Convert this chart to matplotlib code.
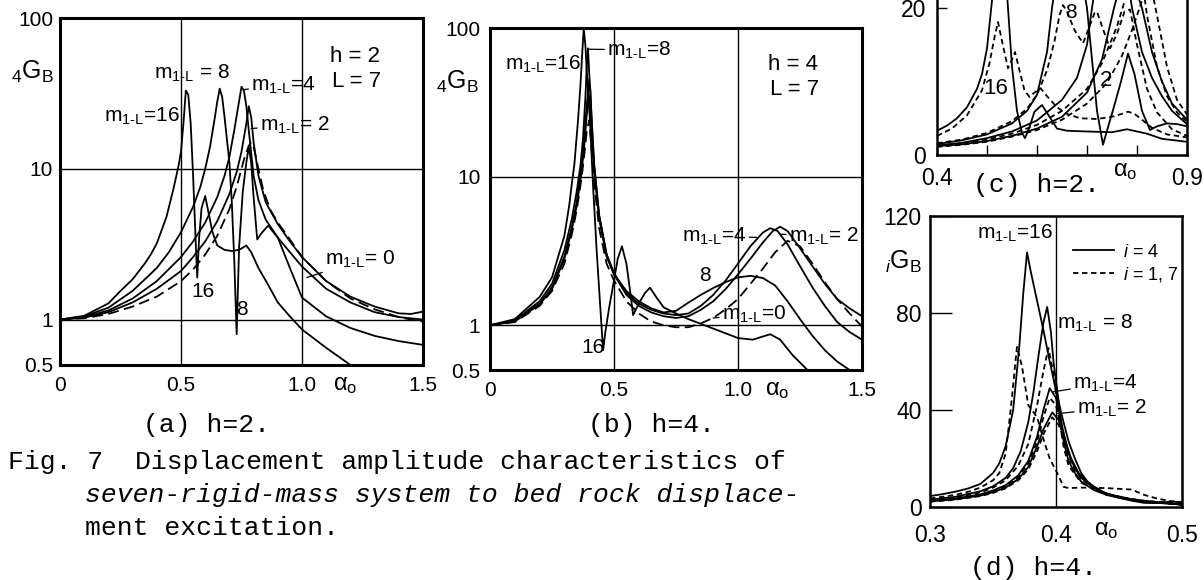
import matplotlib
matplotlib.use("Agg")
import matplotlib.pyplot as plt
from matplotlib.ticker import NullLocator
from matplotlib.lines import Line2D

plt.rcParams['font.family'] = ['Liberation Sans', 'DejaVu Sans']
plt.rcParams['mathtext.fontset'] = 'custom'
plt.rcParams['mathtext.rm'] = 'Liberation Sans'
plt.rcParams['mathtext.it'] = 'Liberation Sans:italic'
plt.rcParams['mathtext.default'] = 'regular'

W, H = 1204, 580

# ****** (a) h=2, log scale ******
A_M0_X = [0, 0.1, 0.2, 0.3, 0.4, 0.5, 0.55, 0.6, 0.65, 0.7, 0.73, 0.76, 0.78, 0.79, 0.8, 0.82, 0.84, 0.87,
          0.9, 0.95, 1.0, 1.1, 1.2, 1.3, 1.4, 1.45, 1.5]
A_M0_Y = [1, 1.02, 1.09, 1.22, 1.42, 1.8, 2.15, 2.7, 3.6, 5.4, 7.6, 11.5, 14.2, 15, 14, 10, 7.2, 5.3,
          4.4, 3.4, 2.6, 1.8, 1.38, 1.17, 1.04, 1.0, 0.97]
A_M2_X = [0, 0.1, 0.2, 0.3, 0.4, 0.5, 0.55, 0.6, 0.65, 0.7, 0.73, 0.75, 0.77, 0.78, 0.79, 0.8, 0.82, 0.85,
          0.9, 0.95, 1.0, 1.1, 1.2, 1.3, 1.4, 1.45, 1.5]
A_M2_Y = [1, 1.03, 1.12, 1.3, 1.6, 2.1, 2.6, 3.3, 4.5, 6.8, 9.5, 13, 20, 26, 22, 15, 9, 6,
          4.3, 3.3, 2.6, 1.8, 1.42, 1.22, 1.1, 1.09, 1.13]
A_M4_X = [0, 0.1, 0.2, 0.3, 0.4, 0.5, 0.55, 0.6, 0.65, 0.68, 0.7, 0.72, 0.74, 0.75, 0.76, 0.77, 0.78, 0.8,
          0.82, 0.85, 0.9, 0.95, 1.0, 1.1, 1.2, 1.3, 1.4, 1.5]
A_M4_Y = [1, 1.04, 1.15, 1.38, 1.8, 2.6, 3.3, 4.4, 6.5, 9, 12, 18, 28, 35, 33, 26, 18, 9,
          6.2, 4.6, 3.5, 2.8, 2.25, 1.6, 1.3, 1.12, 1.04, 1.0]
A_M8_X = [0, 0.1, 0.2, 0.3, 0.4, 0.45, 0.5, 0.55, 0.58, 0.6, 0.62, 0.64, 0.65, 0.66, 0.67, 0.68, 0.7, 0.71,
          0.72, 0.73, 0.74, 0.755, 0.77, 0.78, 0.79, 0.8, 0.815, 0.83, 0.86, 0.9, 0.95, 1.0, 1.1, 1.2,
          1.3, 1.4, 1.5]
A_M8_Y = [1, 1.05, 1.2, 1.55, 2.2, 2.8, 3.8, 5.6, 7.6, 10, 14, 22, 28, 34, 30, 22, 11, 6,
          2.5, 0.8, 3, 7, 11, 14, 11, 6.5, 3.4, 3.7, 4.2, 3.5, 2.2, 1.4, 1.05, 0.88,
          0.78, 0.72, 0.68]
A_M16_X = [0, 0.1, 0.2, 0.25, 0.3, 0.35, 0.375, 0.4, 0.44, 0.47, 0.49, 0.5, 0.51, 0.52, 0.53, 0.54, 0.55,
           0.56, 0.567, 0.575, 0.585, 0.6, 0.615, 0.63, 0.65, 0.68, 0.71, 0.74, 0.77, 0.79, 0.82, 0.86,
           0.9, 0.95, 1.0, 1.1, 1.2]
A_M16_Y = [1, 1.06, 1.28, 1.55, 1.85, 2.35, 2.7, 3.2, 4.8, 7.5, 10.5, 13, 20, 33, 31, 20, 9,
           3.5, 1.9, 3.5, 5.5, 6.6, 5.0, 3.8, 3.1, 2.9, 2.85, 2.9, 3.1, 2.8, 2.2, 1.7,
           1.3, 1.05, 0.86, 0.65, 0.5]

# ****** (b) h=4, log scale ******
B_M0_X = [0, 0.1, 0.2, 0.25, 0.3, 0.33, 0.35, 0.37, 0.38, 0.39, 0.4, 0.41, 0.42, 0.44, 0.47, 0.5, 0.55, 0.6,
          0.65, 0.7, 0.75, 0.8, 0.85, 0.9, 0.95, 1.0, 1.05, 1.1, 1.15, 1.2, 1.25, 1.3, 1.35, 1.4, 1.45, 1.5]
B_M0_Y = [1, 1.05, 1.35, 1.7, 2.6, 4.1, 6, 10, 14, 20, 24, 15, 9, 4.5, 2.6, 2.0, 1.45, 1.2,
          1.06, 1.0, 0.97, 0.97, 1.03, 1.12, 1.28, 1.5, 1.9, 2.4, 3.1, 3.7, 3.4, 2.6, 1.95, 1.5, 1.2, 0.98]
B_M2_X = [0, 0.1, 0.2, 0.25, 0.3, 0.33, 0.35, 0.37, 0.38, 0.39, 0.4, 0.405, 0.41, 0.42, 0.44, 0.47, 0.5,
          0.55, 0.6, 0.65, 0.7, 0.75, 0.8, 0.85, 0.9, 0.95, 1.0, 1.05, 1.1, 1.14, 1.17, 1.2, 1.25, 1.3,
          1.35, 1.4, 1.45, 1.5]
B_M2_Y = [1, 1.06, 1.38, 1.75, 2.8, 4.4, 6.4, 11, 16, 26, 35, 30, 20, 11, 5.2, 2.9, 2.2,
          1.6, 1.35, 1.22, 1.15, 1.12, 1.15, 1.27, 1.45, 1.75, 2.2, 2.8, 3.6, 4.3, 4.6, 4.3, 3.3, 2.5,
          1.9, 1.5, 1.3, 1.15]
B_M4_X = [0, 0.1, 0.2, 0.25, 0.3, 0.33, 0.35, 0.37, 0.38, 0.39, 0.4, 0.405, 0.41, 0.42, 0.44, 0.47, 0.5,
          0.55, 0.6, 0.65, 0.7, 0.75, 0.8, 0.85, 0.9, 0.95, 1.0, 1.05, 1.1, 1.13, 1.16, 1.2, 1.25, 1.3,
          1.35, 1.4, 1.45, 1.5]
B_M4_Y = [1, 1.07, 1.4, 1.8, 2.9, 4.6, 6.8, 12, 18, 30, 45, 38, 24, 12, 5.5, 3.0, 2.25,
          1.65, 1.4, 1.27, 1.2, 1.17, 1.2, 1.35, 1.6, 2.0, 2.6, 3.4, 4.2, 4.5, 4.3, 3.5, 2.5, 1.8,
          1.35, 1.05, 0.9, 0.8]
B_M8_X = [0, 0.1, 0.2, 0.25, 0.3, 0.33, 0.35, 0.365, 0.375, 0.385, 0.39, 0.395, 0.4, 0.41, 0.42, 0.44,
          0.47, 0.5, 0.55, 0.6, 0.65, 0.7, 0.75, 0.8, 0.85, 0.9, 0.95, 1.0, 1.05, 1.1, 1.15, 1.2, 1.25,
          1.3, 1.35, 1.4, 1.45]
B_M8_Y = [1, 1.08, 1.45, 1.9, 3.2, 5.2, 8, 12, 18, 35, 55, 73, 50, 24, 12, 5.5,
          3.0, 2.2, 1.7, 1.45, 1.3, 1.22, 1.25, 1.42, 1.6, 1.78, 1.95, 2.1, 2.15, 2.08, 1.85, 1.45, 1.1,
          0.85, 0.68, 0.57, 0.5]
B_M16_X = [0, 0.1, 0.2, 0.25, 0.3, 0.32, 0.33, 0.34, 0.355, 0.365, 0.372, 0.378, 0.385, 0.392, 0.403,
           0.415, 0.43, 0.445, 0.456, 0.465, 0.48, 0.5, 0.515, 0.532, 0.55, 0.565, 0.577, 0.6, 0.625,
           0.645, 0.67, 0.7, 0.75, 0.8, 0.9, 1.0, 1.06, 1.1, 1.13, 1.17, 1.22, 1.28]
B_M16_Y = [1, 1.1, 1.55, 2.1, 4.0, 6.5, 9, 12, 24, 42, 68, 100, 75, 45, 24,
           9, 3.2, 1.3, 0.68, 0.9, 1.3, 2.0, 2.8, 3.4, 2.6, 1.7, 1.17, 1.4, 1.65,
           1.79, 1.55, 1.32, 1.2, 1.1, 0.95, 0.82, 0.8, 0.84, 0.87, 0.8, 0.63, 0.5]

# ****** (c) h=2, linear, i=4 solid / i=1,7 dashed ******
C_S16_X = [0.4, 0.42, 0.44, 0.46, 0.48, 0.49, 0.5, 0.51, 0.52, 0.525, 0.53, 0.54, 0.55, 0.56, 0.57, 0.576,
           0.585, 0.595, 0.61, 0.625, 0.64, 0.66, 0.7, 0.75, 0.78, 0.8, 0.82, 0.85, 0.9]
C_S16_Y = [3.3, 4.0, 5.0, 6.5, 9.0, 11, 14.5, 21, 30, 33, 31, 22, 12, 6, 3, 2.3,
           3.8, 5.9, 6.8, 5.2, 3.6, 3.3, 3.2, 3.1, 3.5, 3.2, 2.9, 2.2, 1.8]
C_S8_X = [0.4, 0.45, 0.5, 0.55, 0.58, 0.6, 0.62, 0.63, 0.645, 0.66, 0.675, 0.69, 0.7, 0.71, 0.72, 0.732,
          0.745, 0.752, 0.768, 0.782, 0.795, 0.81, 0.826, 0.84, 0.86, 0.88, 0.9]
C_S8_Y = [1.5, 2.0, 2.8, 4.3, 6.0, 8.2, 14, 20, 27, 34, 30, 24, 20, 13, 6, 1.4,
          4.5, 6.1, 10, 13.8, 11, 6, 3.4, 3.9, 4.3, 4.2, 3.9]
C_S4_X = [0.4, 0.45, 0.5, 0.55, 0.6, 0.65, 0.68, 0.7, 0.71, 0.73, 0.75, 0.77, 0.79, 0.81, 0.83, 0.85,
          0.87, 0.9]
C_S4_Y = [1.3, 1.65, 2.3, 3.2, 4.7, 7.5, 10.5, 15, 20, 29, 35, 29, 20, 14, 10.5, 8, 6, 4.2]
C_S2_X = [0.4, 0.45, 0.5, 0.55, 0.6, 0.65, 0.7, 0.73, 0.754, 0.77, 0.78, 0.79, 0.81, 0.83, 0.85, 0.87, 0.9]
C_S2_Y = [1.2, 1.45, 1.9, 2.6, 3.6, 5.2, 8.5, 13, 20, 24, 26, 24, 20, 14, 10, 7, 4.8]
C_D16_X = [0.4, 0.43, 0.46, 0.49, 0.505, 0.515, 0.522, 0.53, 0.542, 0.55, 0.556, 0.565, 0.575, 0.585,
           0.595, 0.607, 0.62, 0.64, 0.66, 0.686, 0.72, 0.75, 0.77, 0.782, 0.795, 0.81, 0.83, 0.86, 0.9]
C_D16_Y = [2.6, 3.6, 5.4, 8.8, 12.5, 16, 18.1, 15.5, 11.8, 13, 14, 11.5, 8.8, 7.9,
           8.5, 9.1, 8, 6.5, 5.6, 5.0, 4.9, 5.2, 5.6, 5.9, 5.6, 4.8, 3.7, 2.8, 2.4]
C_D8_X = [0.4, 0.45, 0.5, 0.55, 0.58, 0.6, 0.62, 0.635, 0.645, 0.652, 0.66, 0.675, 0.692, 0.705, 0.715,
          0.72, 0.73, 0.746, 0.76, 0.775, 0.786, 0.8, 0.82, 0.84, 0.87, 0.9]
C_D8_Y = [1.6, 2.1, 3.0, 4.6, 6.3, 8.2, 11.5, 15.5, 19, 20.4, 19.5, 17, 15.2, 17.5, 19.3,
          19.5, 17.5, 14.5, 16.5, 19.5, 19.8, 15, 9, 5.8, 3.5, 2.6]
C_D4_X = [0.4, 0.45, 0.5, 0.55, 0.6, 0.65, 0.7, 0.73, 0.76, 0.78, 0.8, 0.81, 0.82, 0.84, 0.86, 0.88, 0.9]
C_D4_Y = [1.25, 1.6, 2.1, 2.9, 4.1, 6, 9, 12.5, 17.5, 22, 26, 24, 19, 12, 8, 5.8, 4.5]
C_D2_X = [0.4, 0.45, 0.5, 0.55, 0.6, 0.65, 0.7, 0.74, 0.77, 0.79, 0.81, 0.825, 0.84, 0.86, 0.88, 0.9]
C_D2_Y = [1.1, 1.4, 1.8, 2.5, 3.4, 4.8, 7, 9.8, 13.5, 17, 21, 24, 19, 12, 7.5, 5.5]

# ****** (d) h=4, linear, i=4 solid / i=1,7 dashed ******
D_S16_X = [0.3, 0.31, 0.32, 0.33, 0.34, 0.35, 0.355, 0.36, 0.366, 0.371, 0.374, 0.377, 0.38, 0.385, 0.39,
           0.395, 0.4, 0.405, 0.41, 0.415, 0.42, 0.425, 0.43, 0.44, 0.45, 0.46, 0.47, 0.48, 0.49, 0.5]
D_S16_Y = [4.5, 5.3, 6.3, 7.6, 9.5, 14, 18, 25, 40, 67, 88, 105, 97, 85, 73,
           60, 48, 37, 27, 20, 14, 10.5, 8.5, 5.5, 3.8, 2.6, 1.7, 1.6, 2.2, 2]
D_D16_X = [0.3, 0.31, 0.32, 0.33, 0.34, 0.35, 0.355, 0.36, 0.364, 0.369, 0.373, 0.378, 0.385, 0.39, 0.395,
           0.401, 0.406, 0.41, 0.42, 0.44, 0.46, 0.47, 0.48, 0.49, 0.5]
D_D16_Y = [3.5, 4.2, 5, 6.2, 8, 11, 14, 22, 40, 66, 58, 42, 37, 28, 20,
           14, 8.3, 7.8, 8, 7.8, 7.2, 5, 3.5, 2.5, 2]
D_S8_X = [0.3, 0.32, 0.34, 0.35, 0.36, 0.366, 0.372, 0.378, 0.382, 0.386, 0.39, 0.393, 0.396, 0.398, 0.402,
          0.406, 0.41, 0.415, 0.42, 0.43, 0.44, 0.45, 0.47, 0.5]
D_S8_Y = [3, 4.2, 6.5, 8.5, 12, 16, 23, 35, 47, 62, 76, 82.5, 72, 60, 44,
          27, 19, 14, 10.5, 7, 5, 3.8, 2.2, 1]
D_D8_X = [0.3, 0.32, 0.34, 0.35, 0.36, 0.37, 0.378, 0.385, 0.39, 0.394, 0.398, 0.402, 0.406, 0.41, 0.42,
          0.44, 0.47, 0.5]
D_D8_Y = [2.8, 3.9, 6, 8, 11, 17, 26, 42, 56, 65.6, 55, 38, 25, 17, 10, 5, 2.5, 1.5]
D_S4_X = [0.3, 0.32, 0.34, 0.35, 0.36, 0.37, 0.378, 0.385, 0.39, 0.395, 0.4, 0.405, 0.41, 0.415, 0.42,
          0.43, 0.44, 0.46, 0.48, 0.5]
D_S4_Y = [2.5, 3.5, 5.2, 6.8, 9, 13, 19, 29, 40, 49, 45, 33, 22, 16, 12, 8, 5.5, 3.2, 2, 1]
D_D4_Y = [2.4, 3.3, 5, 6.5, 8.6, 12.3, 18, 27, 37, 45, 42, 31, 21, 15, 11.5, 7.8, 5.4, 3.1, 2, 1]
D_S2_X = [0.3, 0.32, 0.34, 0.35, 0.36, 0.37, 0.378, 0.385, 0.39, 0.397, 0.402, 0.407, 0.412, 0.418, 0.425,
          0.435, 0.45, 0.47, 0.5]
D_S2_Y = [2.3, 3.2, 4.7, 6.1, 8, 11.5, 16.5, 25, 32, 39, 36, 28, 20, 14, 10, 6.5, 4, 2.2, 1]
D_D2_Y = [2.2, 3.0, 4.5, 5.8, 7.7, 11, 15.5, 23, 30, 37, 34, 27, 19.5, 13.5, 9.6, 6.3, 3.9, 2.1, 1]

LOG_YTICKS = [0.5, 1, 10, 100]
LOG_YLABELS = ['0.5', '1', '10', '100']
AB_XTICKS = [0, 0.5, 1.0, 1.5]
AB_XLABELS = ['0', '0.5', '1.0', '1.5']

LONG_DASH = (0, (6, 3))
SHORT_DASH = (0, (3, 2))
LW = 1.3


def add_px_axes(left, top, right, bottom):
    return fig.add_axes([left / W, 1 - bottom / H, (right - left) / W, (bottom - top) / H])


def mlabel(rest):
    return 'm$_{1\u2010L}$' + rest


def note(ax, txt, xy, xytext, ha='left', size=15):
    ax.annotate(txt, xy=xy, xytext=xytext, ha=ha, va='center', fontsize=size,
                arrowprops=dict(arrowstyle='-', lw=0.9, color='k', shrinkA=0, shrinkB=0))


def fig_text(px, py, s, **kw):
    fig.text(px / W, 1 - py / H, s, va='center', **kw)


def log_panel(ax, ypad, a0_x):
    ax.set_yscale('log')
    ax.set_xlim(0, 1.5)
    ax.set_ylim(0.5, 100)
    ax.set_xticks(AB_XTICKS)
    ax.set_xticklabels(AB_XLABELS)
    ax.set_yticks(LOG_YTICKS)
    ax.set_yticklabels(LOG_YLABELS)
    ax.yaxis.set_minor_locator(NullLocator())
    ax.tick_params(axis='both', length=0, labelsize=15)
    ax.tick_params(axis='x', pad=8)
    ax.tick_params(axis='y', pad=ypad)
    for s in ax.spines.values():
        s.set_linewidth(2.2)
    for v in (1, 10):
        ax.axhline(v, color='k', lw=1.0, zorder=1)
    for v in (0.5, 1.0):
        ax.axvline(v, color='k', lw=1.0, zorder=1)
    ax.text(a0_x, -0.058, 'α$_o$', transform=ax.get_xaxis_transform(),
            ha='center', va='center', fontsize=17)


fig = plt.figure(figsize=(W / 100, H / 100), dpi=100)

# ---- (a) ----
ax_a = add_px_axes(60, 18, 423, 365)
log_panel(ax_a, 5, 1.18)
ax_a.plot(A_M16_X, A_M16_Y, 'k', lw=LW)
ax_a.plot(A_M8_X, A_M8_Y, 'k', lw=LW)
ax_a.plot(A_M4_X, A_M4_Y, 'k', lw=LW)
ax_a.plot(A_M2_X, A_M2_Y, 'k', lw=LW)
ax_a.plot(A_M0_X, A_M0_Y, 'k', lw=LW, linestyle=LONG_DASH)

ax_a.text(0.339, 22.2, mlabel('=16'), ha='center', va='center', fontsize=15)
ax_a.text(0.545, 43, mlabel(' = 8'), ha='center', va='center', fontsize=15)
note(ax_a, mlabel('=4'), (0.757, 33.5), (0.79, 35.8))
note(ax_a, mlabel('= 2'), (0.79, 18.5), (0.826, 19.4))
note(ax_a, mlabel('= 0'), (1.02, 1.9), (1.095, 2.5))
ax_a.text(0.59, 1.54, '16', ha='center', va='center', fontsize=15)
ax_a.text(0.752, 1.17, '8', ha='center', va='center', fontsize=15)
ax_a.text(1.116, 55.7, 'h = 2', ha='left', va='center', fontsize=16)
ax_a.text(1.124, 38, 'L = 7', ha='left', va='center', fontsize=16)
fig_text(32, 72, '$_4$G$_B$', ha='center', fontsize=18)

# ---- (b) ----
ax_b = add_px_axes(490, 28, 862, 370)
log_panel(ax_b, 7, 1.16)
ax_b.plot(B_M16_X, B_M16_Y, 'k', lw=LW)
ax_b.plot(B_M8_X, B_M8_Y, 'k', lw=LW)
ax_b.plot(B_M4_X, B_M4_Y, 'k', lw=LW)
ax_b.plot(B_M2_X, B_M2_Y, 'k', lw=LW)
ax_b.plot(B_M0_X, B_M0_Y, 'k', lw=LW, linestyle=LONG_DASH)

ax_b.text(0.06, 56.7, mlabel('=16'), ha='left', va='center', fontsize=15)
note(ax_b, mlabel('=8'), (0.395, 72), (0.472, 71.2))
ax_b.text(1.12, 56.7, 'h = 4', ha='left', va='center', fontsize=16)
ax_b.text(1.13, 38.6, 'L = 7', ha='left', va='center', fontsize=16)
note(ax_b, mlabel('=4'), (1.075, 3.9), (0.774, 3.98))
note(ax_b, mlabel('= 2'), (1.17, 4.1), (1.205, 3.98))
ax_b.text(0.867, 2.15, '8', ha='center', va='center', fontsize=15)
note(ax_b, mlabel('=0'), (0.9, 1.12), (0.935, 1.18))
ax_b.text(0.415, 0.71, '16', ha='center', va='center', fontsize=15)
fig_text(457, 82, '$_4$G$_B$', ha='center', fontsize=18)

# ---- (c) ----
ax_c = add_px_axes(937, -139, 1187, 155)
ax_c.set_xlim(0.4, 0.9)
ax_c.set_ylim(0, 40)
ax_c.set_xticks([0.4, 0.5, 0.6, 0.7, 0.8, 0.9])
ax_c.set_xticklabels(['0.4', '', '', '', '', '0.9'])
ax_c.set_yticks([0, 20])
ax_c.set_yticklabels(['0', '20'])
ax_c.tick_params(direction='in', length=7, width=1, labelsize=16.5)
ax_c.tick_params(axis='x', pad=9)
ax_c.tick_params(axis='y', pad=8)
for s in ax_c.spines.values():
    s.set_linewidth(1.8)
ax_c.plot(C_S16_X, C_S16_Y, 'k', lw=LW)
ax_c.plot(C_S8_X, C_S8_Y, 'k', lw=LW)
ax_c.plot(C_S4_X, C_S4_Y, 'k', lw=LW)
ax_c.plot(C_S2_X, C_S2_Y, 'k', lw=LW)
ax_c.plot(C_D16_X, C_D16_Y, 'k', lw=LW, linestyle=SHORT_DASH)
ax_c.plot(C_D8_X, C_D8_Y, 'k', lw=LW, linestyle=SHORT_DASH)
ax_c.plot(C_D4_X, C_D4_Y, 'k', lw=LW, linestyle=SHORT_DASH)
ax_c.plot(C_D2_X, C_D2_Y, 'k', lw=LW, linestyle=SHORT_DASH)
ax_c.text(0.518, 9.1, '16', ha='center', va='center', fontsize=16)
ax_c.text(0.738, 10.2, '2', ha='center', va='center', fontsize=16)
ax_c.text(0.668, 19.4, '8', ha='center', va='center', fontsize=15)
ax_c.text(0.776, -0.055, 'α$_o$', transform=ax_c.get_xaxis_transform(),
          ha='center', va='center', fontsize=17)

# ---- (d) ----
ax_d = add_px_axes(930, 216, 1182, 507)
ax_d.set_xlim(0.3, 0.5)
ax_d.set_ylim(0, 120)
ax_d.set_xticks([0.3, 0.4, 0.5])
ax_d.set_xticklabels(['0.3', '0.4', '0.5'])
ax_d.set_yticks([0, 40, 80, 120])
ax_d.set_yticklabels(['0', '40', '80', '120'])
ax_d.tick_params(axis='y', direction='in', length=16, width=1, labelsize=16.5, pad=6)
ax_d.tick_params(axis='x', length=0, labelsize=16.5, pad=12)
for s in ax_d.spines.values():
    s.set_linewidth(1.8)
ax_d.axvline(0.4, color='k', lw=1.0, zorder=1)
ax_d.plot(D_S16_X, D_S16_Y, 'k', lw=LW)
ax_d.plot(D_S8_X, D_S8_Y, 'k', lw=LW)
ax_d.plot(D_S4_X, D_S4_Y, 'k', lw=LW)
ax_d.plot(D_S2_X, D_S2_Y, 'k', lw=LW)
ax_d.plot(D_D16_X, D_D16_Y, 'k', lw=LW, linestyle=SHORT_DASH)
ax_d.plot(D_D8_X, D_D8_Y, 'k', lw=LW, linestyle=SHORT_DASH)
ax_d.plot(D_S4_X, D_D4_Y, 'k', lw=LW, linestyle=SHORT_DASH)
ax_d.plot(D_S2_X, D_D2_Y, 'k', lw=LW, linestyle=SHORT_DASH)

ax_d.text(0.367, 113, mlabel('=16'), ha='center', va='center', fontsize=15)
ax_d.text(0.401, 75.9, mlabel(' = 8'), ha='left', va='center', fontsize=15)
note(ax_d, mlabel('=4'), (0.398, 47.5), (0.4135, 51))
note(ax_d, mlabel('= 2'), (0.401, 38.5), (0.4167, 40.8))
ax_d.text(0.44, -0.08, 'α$_o$', transform=ax_d.get_xaxis_transform(),
          ha='center', va='center', fontsize=17)

handles = [Line2D([], [], color='k', lw=LW), Line2D([], [], color='k', lw=LW, linestyle=SHORT_DASH)]
ax_d.legend(handles, ['$\\mathit{i}$ = 4', '$\\mathit{i}$ = 1, 7'], loc='upper left',
            bbox_to_anchor=(0.567, 0.905), frameon=False, fontsize=13, handlelength=2.3,
            borderpad=0, borderaxespad=0, labelspacing=0.25, handletextpad=0.5)
fig_text(904, 262, '$_\\mathit{i}$G$_B$', ha='center', fontsize=18)

# ---- captions ----
mono = dict(family='Liberation Mono', fontsize=19)
fig_text(143, 425, '(a) h=2.', ha='left', **mono)
fig_text(588, 425, '(b) h=4.', ha='left', **mono)
fig_text(973, 185, '(c) h=2.', ha='left', **mono)
fig_text(970, 568, '(d) h=4.', ha='left', **mono)
fig_text(8, 462, 'Fig. 7  Displacement amplitude characteristics of', ha='left', **mono)
fig_text(85, 495, 'seven-rigid-mass system to bed rock displace-', ha='left', style='italic', **mono)
fig_text(85, 528, 'ment excitation.', ha='left', **mono)

fig.savefig('out.png', dpi=100)
